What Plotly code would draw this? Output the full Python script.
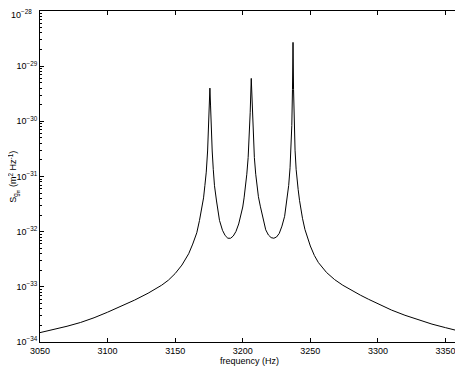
import plotly.graph_objects as go

# frequency samples (Hz)
freq_hz = [
    3050, 3060, 3070, 3080, 3090, 3100, 3110, 3120, 3130, 3140,
    3145, 3150, 3155, 3160, 3163, 3166, 3168, 3170, 3171, 3172,
    3173, 3174, 3174.6, 3175.2, 3175.7, 3176.2, 3176.8, 3177.4, 3178.2, 3179.1,
    3180.6, 3182.8, 3185, 3187, 3189, 3191, 3193, 3195, 3197, 3199,
    3200, 3201, 3202, 3203, 3204, 3204.8, 3205.5, 3206.3, 3207.1, 3207.8,
    3208.6, 3209.6, 3210.6, 3211.6, 3213, 3215, 3217, 3219, 3221, 3223,
    3225, 3227, 3229, 3231, 3232, 3233, 3234, 3235, 3235.7, 3236.3,
    3236.8, 3237.2, 3237.6, 3238.1, 3238.7, 3239.5, 3240, 3241, 3242, 3243,
    3244.2, 3246, 3248, 3250, 3253, 3256, 3262, 3268, 3274, 3281,
    3287, 3293, 3300, 3310, 3320, 3330, 3340, 3350, 3360,
]

# spectral density S_gm (m^2 Hz^-1)
s_gm = [
    1.48e-34, 1.68e-34, 1.93e-34, 2.26e-34, 2.75e-34, 3.47e-34, 4.42e-34, 5.75e-34, 7.67e-34, 1.07e-33,
    1.32e-33, 1.74e-33, 2.48e-33, 3.98e-33, 5.96e-33, 9.55e-33, 1.6e-32, 2.8e-32, 4.1e-32, 6.9e-32,
    1.2e-31, 2.9e-31, 6.4e-31, 2.0e-30, 4.0e-30, 1.9e-30, 6.3e-31, 2.9e-31, 1.35e-31, 6.8e-32,
    3.6e-32, 1.6e-32, 1.06e-32, 8.5e-33, 7.6e-33, 7.6e-33, 8.35e-33, 1.01e-32, 1.38e-32, 2.1e-32,
    2.8e-32, 4.1e-32, 6.4e-32, 1.1e-31, 2.2e-31, 4.9e-31, 1.43e-30, 6.0e-30, 1.43e-30, 4.9e-31,
    2.2e-31, 1.1e-31, 6.5e-32, 4.3e-32, 2.9e-32, 1.64e-32, 1.08e-32, 8.7e-33, 7.8e-33, 7.6e-33,
    8.0e-33, 9.3e-33, 1.26e-32, 1.9e-32, 2.75e-32, 4.1e-32, 6.9e-32, 1.44e-31, 3.0e-31, 8.4e-31,
    3.76e-30, 2.7e-29, 3.76e-30, 8.4e-31, 3.0e-31, 1.35e-31, 9.5e-32, 5.8e-32, 3.7e-32, 2.45e-32,
    1.75e-32, 1.1e-32, 7.5e-33, 5.5e-33, 3.7e-33, 2.75e-33, 1.82e-33, 1.35e-33, 1.07e-33, 8.5e-34,
    7.08e-34, 5.96e-34, 4.9e-34, 3.8e-34, 3.05e-34, 2.51e-34, 2.11e-34, 1.82e-34, 1.58e-34,
]

x_ticks = [3050, 3100, 3150, 3200, 3250, 3300, 3350]
y_ticks = [1e-34, 1e-33, 1e-32, 1e-31, 1e-30, 1e-29]
y_tick_labels = [
    '10<sup>\u221234</sup>', '10<sup>\u221233</sup>', '10<sup>\u221232</sup>',
    '10<sup>\u221231</sup>', '10<sup>\u221230</sup>', '10<sup>\u221229</sup>',
]
y_top_label = '10<sup>\u221228</sup>'

fig = go.Figure()

fig.add_trace(
    go.Scatter(
        x=freq_hz,
        y=s_gm,
        mode='lines',
        line=dict(color='black', width=1),
        showlegend=False,
    )
)

axis_font = dict(family='Liberation Sans, Arial, sans-serif', size=9, color='black')
ytick_font = dict(family='Liberation Sans, Arial, sans-serif', size=9, color='black')

fig.update_xaxes(
    range=[3050, 3360],
    tickvals=x_ticks,
    ticks='inside',
    ticklen=4,
    tickcolor='black',
    showline=True,
    linecolor='black',
    linewidth=1,
    mirror='ticks',
    showgrid=False,
    zeroline=False,
    automargin=False,
    ticklabeloverflow='allow',
    tickfont=axis_font,
)

fig.update_yaxes(
    type='log',
    range=[-34, -28],
    tickvals=y_ticks,
    ticktext=y_tick_labels,
    ticks='inside',
    ticklen=4,
    tickcolor='black',
    minor=dict(ticks='inside', ticklen=2, tickcolor='black', dtick='D1', showgrid=False),
    showline=True,
    linecolor='black',
    linewidth=1,
    mirror='ticks',
    showgrid=False,
    zeroline=False,
    automargin=False,
    ticklabeloverflow='allow',
    tickfont=ytick_font,
)

# top decade label nudged down so it stays inside the page
fig.add_annotation(
    text=y_top_label, xref='paper', yref='paper',
    x=0, y=1, xanchor='right', yanchor='middle',
    xshift=-6, yshift=-3,
    showarrow=False, font=ytick_font,
)

# axis titles as annotations so they sit tight against the tick labels
fig.add_annotation(
    text='frequency (Hz)', xref='paper', yref='paper',
    x=0.5, y=-0.058, xanchor='center', yanchor='middle',
    showarrow=False, font=axis_font,
)
fig.add_annotation(
    text='S<sub>g<sub>m</sub></sub> (m<sup>2</sup> Hz<sup>-1</sup>)',
    xref='paper', yref='paper',
    x=-0.064, y=0.5, xanchor='center', yanchor='middle',
    textangle=-90, showarrow=False, font=axis_font,
)

# the page body adds an 8px offset, so the figure is sized/margined to compensate
fig.update_layout(
    width=455,
    height=359,
    margin=dict(l=32, r=4, t=3, b=25),
    paper_bgcolor='white',
    plot_bgcolor='white',
    font=axis_font,
)

fig.write_html("out.html")
